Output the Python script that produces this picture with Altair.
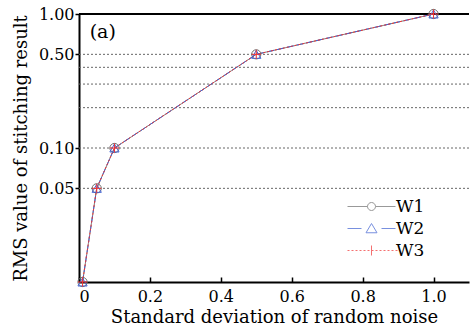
import altair as alt
import pandas as pd

# Stitching RMS versus noise level for three windows
noise_sd = [0.01, 0.05, 0.1, 0.5, 1.0]
rms_w1 = [0.01, 0.05, 0.1, 0.5, 1.0]
rms_w2 = [0.01, 0.05, 0.1, 0.5, 1.0]
rms_w3 = [0.01, 0.05, 0.1, 0.5, 1.0]
series_names = ["W1", "W2", "W3"]
grid_levels = [0.05, 0.1, 0.2, 0.3, 0.4, 0.5]
y_tick_values = [0.05, 0.1, 0.5, 1.0]
x_tick_values = [0, 0.2, 0.4, 0.6, 0.8, 1.0]
panel_tag = ["(a)"]

rows = []
for name, vals in zip(series_names, [rms_w1, rms_w2, rms_w3]):
    for x, y in zip(noise_sd, vals):
        rows.append({"sd": x, "rms": y, "series": name})
df = pd.DataFrame(rows)
grid_df = pd.DataFrame({"level": grid_levels})
tag_df = pd.DataFrame({"tag": panel_tag})

FONT = "DejaVu Serif"
colors = ["#6e6e6e", "#4062d2", "#f03434"]
dashes = [[1, 0], [7, 3], [2, 2]]
plus_path = "M-1,0L1,0M0,-1L0,1"

# legend glyphs: line segment with the marker in the middle
dots = "".join(f"M{x:.2f},0L{x + 0.4:.2f},0" for x in [-4.8 + 0.8 * i for i in range(13)])
legend_glyphs = [
    "M-4.8,0L-0.8,0M0.8,0L4.8,0M-0.8,0A0.8,0.8 0 1,1 0.8,0A0.8,0.8 0 1,1 -0.8,0",
    "M-4.8,0L-2.0,0M2.0,0L4.8,0M0,-1.0L1.1,0.85L-1.1,0.85Z",
    dots + "M0,-1L0,1",
]

legend = alt.Legend(
    title=None,
    orient="none",
    legendX=284,
    legendY=184,
    symbolSize=100,
    symbolStrokeWidth=1,
    symbolFillColor="transparent",
    symbolStrokeColor=alt.ExprRef(expr="scale('color', datum.value)"),
    labelFont=FONT,
    labelFontSize=17,
    labelColor="black",
    labelOffset=16,
    rowPadding=4,
)

x_scale = alt.Scale(domain=[0, 1.1], nice=False, zero=False)
y_scale = alt.Scale(type="log", domain=[0.01, 1.0], nice=False)
color_scale = alt.Scale(domain=series_names, range=colors)
y_title = "RMS value of stitching result"
y_axis = alt.Axis(values=y_tick_values, format=".2f", grid=False,
                  tickSize=4, labelPadding=1, titlePadding=8)

base = alt.Chart(df)

grid = alt.Chart(grid_df).mark_rule(
    color="#666666", strokeDash=[2, 2], strokeWidth=1
).encode(y=alt.Y("level:Q", scale=y_scale, axis=y_axis, title=y_title))

top_line = alt.Chart(tag_df).mark_rule(color="black", strokeWidth=2).encode(
    y=alt.datum(1.0, scale=y_scale, axis=y_axis, title=y_title)
)

lines = base.mark_line(strokeWidth=1).encode(
    x=alt.X(
        "sd:Q",
        scale=x_scale,
        title="Standard deviation of random noise",
        axis=alt.Axis(
            values=x_tick_values,
            labelExpr="datum.value == 0 ? '0' : format(datum.value, '.1f')",
            ticks=False,
            grid=False,
            labelPadding=6,
            titlePadding=4,
        ),
    ),
    y=alt.Y("rms:Q", scale=y_scale, title=y_title, axis=y_axis),
    color=alt.Color("series:N", scale=color_scale, legend=None),
    strokeDash=alt.StrokeDash(
        "series:N", scale=alt.Scale(domain=series_names, range=dashes), legend=None
    ),
    order=alt.Order("sd:Q"),
)

points = base.mark_point(filled=False, strokeWidth=1, size=85, opacity=1).encode(
    x=alt.X(
        "sd:Q",
        scale=x_scale,
        axis=alt.Axis(orient="top", offset=-268, labels=False, domain=False,
                      grid=False, tickSize=5, values=x_tick_values, title=None),
    ),
    y=alt.Y("rms:Q", scale=y_scale, title=y_title, axis=y_axis),
    color=alt.Color("series:N", scale=color_scale, legend=None),
    shape=alt.Shape(
        "series:N",
        scale=alt.Scale(domain=series_names, range=["circle", "triangle-up", plus_path]),
        legend=None,
    ),
)

# key: entries come from the explicit scale domains
key = base.transform_filter("false").mark_point(filled=False, strokeWidth=1).encode(
    shape=alt.Shape("series:N", scale=alt.Scale(domain=series_names, range=legend_glyphs),
                    legend=legend),
)

label = alt.Chart(tag_df).mark_text(
    font=FONT, fontSize=19, fontWeight="normal",
    align="left", baseline="middle", color="black"
).encode(
    text="tag:N",
    x=alt.datum(0.03, scale=x_scale, axis=None),
    y=alt.datum(0.74, scale=y_scale, axis=y_axis, title=y_title),
)

chart = (
    alt.layer(grid, top_line, lines, points, label, key)
    .resolve_axis(x="independent")
    .resolve_scale(shape="independent")
    .properties(
        width=390,
        height=268,
        autosize=alt.AutoSizeParams(type="none"),
        padding={"left": 79, "top": 14, "right": 1, "bottom": 47},
        background="white",
    )
    .configure_view(stroke=None)
    .configure_axis(
        domainColor="black",
        domainWidth=2,
        tickColor="black",
        tickWidth=1.5,
        labelFont=FONT,
        labelFontSize=16,
        labelColor="black",
        titleFont=FONT,
        titleFontSize=18,
        titleFontWeight="normal",
        titleColor="black",
    )
)

chart.save("out.html", embed_options={"renderer": "svg", "actions": False})
